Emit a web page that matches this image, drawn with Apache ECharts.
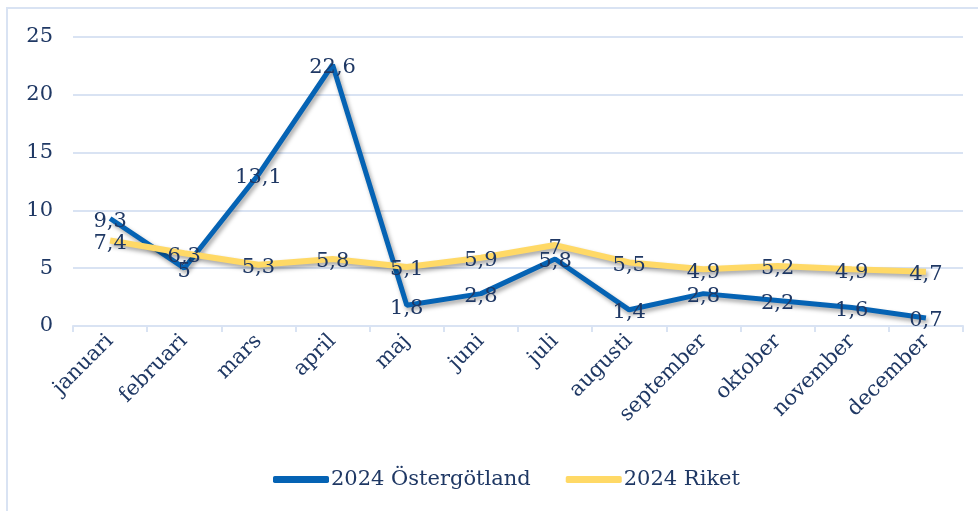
<!DOCTYPE html>
<html>
<head>
<meta charset="utf-8">
<script src="https://cdn.jsdelivr.net/npm/echarts@6/dist/echarts.min.js"></script>
<style>
  html, body { margin: 0; padding: 0; background: #fff; }
  #chart { width: 978px; height: 511px; }
</style>
</head>
<body>
<div id="chart"></div>
<script>
// 月份
const months = ["januari", "februari", "mars", "april", "maj", "juni", "juli",
  "augusti", "september", "oktober", "november", "december"]
// serier
const ostergotland = [9.3, 5, 13.1, 22.6, 1.8, 2.8, 5.8, 1.4, 2.8, 2.2, 1.6, 0.7]
const riket = [7.4, 6.3, 5.3, 5.8, 5.1, 5.9, 7, 5.5, 4.9, 5.2, 4.9, 4.7]
const seriesNames = ["2024 Östergötland", "2024 Riket"]
// y-axel
const yMin = 0
const yMax = 25
const yStep = 5

const textColor = "#1f3864"
const gridColor = "#d9e3f3"
const font = "'DejaVu Serif', Georgia, serif"
const fontSize = 21

const myChart = echarts.init(document.getElementById("chart"))

// komma som decimaltecken
const fmt = (p) => String(p.value).replace(".", ",")

function lineSeries(name, data, color, width) {
  return {
    name: name,
    type: "line",
    data: data,
    symbol: "circle",
    symbolSize: 0.1,
    itemStyle: { color: color },
    lineStyle: {
      color: color,
      width: width,
      shadowColor: "rgba(0,0,0,0.35)",
      shadowBlur: 4,
      shadowOffsetX: 2,
      shadowOffsetY: 3,
    },
    label: {
      show: true,
      position: "inside",
      offset: [0, 3],
      formatter: fmt,
      color: textColor,
      fontFamily: font,
      fontSize: fontSize,
    },
    emphasis: { disabled: true },
  }
}

let option = {
  animation: false,
  backgroundColor: "#fff",
  textStyle: { fontFamily: font },
  graphic: [
    {
      type: "rect",
      shape: { x: 7, y: 8, width: 1000, height: 600 },
      style: { fill: "none", stroke: gridColor, lineWidth: 2 },
      silent: true,
    },
  ],
  grid: {
    left: 73,
    right: 15,
    top: 37,
    bottom: 185,
  },
  legend: {
    bottom: 16,
    left: 268,
    itemWidth: 56,
    itemHeight: 7,
    itemGap: 35,
    icon: "roundRect",
    textStyle: { color: textColor, fontFamily: font, fontSize: fontSize, padding: [0, 0, 0, -3] },
    data: seriesNames,
  },
  xAxis: {
    type: "category",
    data: months,
    boundaryGap: true,
    axisLine: { lineStyle: { color: gridColor, width: 2 } },
    axisTick: { show: true, length: 6, lineStyle: { color: gridColor, width: 2 } },
    axisLabel: {
      rotate: 45,
      margin: 12,
      color: textColor,
      fontFamily: font,
      fontSize: fontSize,
      interval: 0,
    },
  },
  yAxis: {
    type: "value",
    min: yMin,
    max: yMax,
    interval: yStep,
    axisLine: { show: false },
    axisTick: { show: false },
    axisLabel: { color: textColor, fontFamily: font, fontSize: fontSize, margin: 20 },
    splitLine: { lineStyle: { color: gridColor, width: 2 } },
  },
  series: [
    lineSeries(seriesNames[0], ostergotland, "#0563b4", 5),
    lineSeries(seriesNames[1], riket, "#ffd966", 6),
  ],
}

myChart.setOption(option)
</script>
</body>
</html>
